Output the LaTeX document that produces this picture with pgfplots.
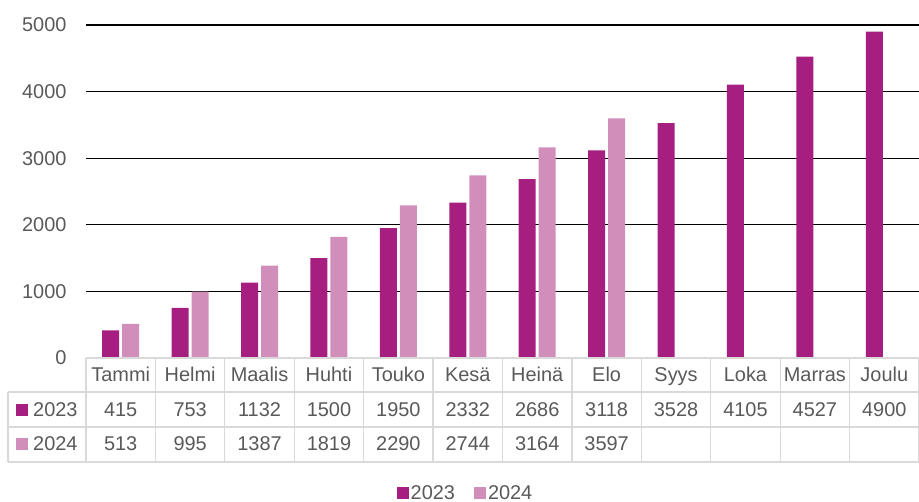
\documentclass[border=0pt]{standalone}
\usepackage{fontspec}
\setmainfont{Liberation Sans}
\usepackage{pgfplots}
\pgfplotsset{compat=1.18}
\usepackage{pgfplotstable}
\definecolor{c23}{HTML}{A61F80}
\definecolor{c24}{HTML}{D18EBB}
\definecolor{txt}{HTML}{595959}
\definecolor{tbl}{HTML}{D9D9D9}

\pgfplotstableread{
x y
0 415
1 753
2 1132
3 1500
4 1950
5 2332
6 2686
7 3118
8 3528
9 4105
10 4527
11 4900
}\dataA
\pgfplotstableread{
x y
0 513
1 995
2 1387
3 1819
4 2290
5 2744
6 3164
7 3597
}\dataB

\newcommand{\fs}{\fontsize{20}{23}\selectfont}

\begin{document}
\begin{tikzpicture}[font=\fs]
\useasboundingbox (-86bp,-144bp) rectangle (833bp,358bp);
\begin{axis}[
  at={(0,0)}, anchor=south west, scale only axis,
  width=833bp, height=333bp,
  xmin=-0.5, xmax=11.5, ymin=0, ymax=5000,
  ybar=3bp, bar width=17bp,
  axis line style={draw=none},
  xtick=\empty,
  ytick={1000,2000,3000,4000,5000},
  extra y ticks={0},
  extra y tick style={grid=none},
  ymajorgrids,
  grid style={black, line width=1.1bp},
  major tick length=0pt,
  /pgf/number format/assume math mode=true,
  /pgf/number format/1000 sep={},
  scaled y ticks=false,
  tick label style={text=txt, font=\fs},
  yticklabel style={xshift=-16bp},
  clip=false,
  legend style={at={(0.4556,-0.405)}, anchor=center, draw=none, fill=none,
    font=\fs, text=txt, inner sep=0pt,
    /tikz/every even column/.append style={column sep=17bp}},
  legend columns=2,
  legend image code/.code={\fill[#1] (0bp,-6bp) rectangle (12bp,6bp);},
]
\addplot[fill=c23, draw=none] table[x=x,y=y] {\dataA};
\addplot[fill=c24, draw=none] table[x=x,y=y] {\dataB};
\legend{2023,2024}
\end{axis}
% data table
\begin{scope}[tbl, line width=1.3bp]
\draw (0bp,0bp) -- (833bp,0bp);
\draw (-78bp,-34bp) -- (833bp,-34bp);
\draw (-78bp,-69bp) -- (833bp,-69bp);
\draw (-78bp,-104bp) -- (833bp,-104bp);
\draw (-78bp,-34bp) -- (-78bp,-104bp);
\foreach \i in {0,...,12} \draw ({\i*69.4167bp},0bp) -- ({\i*69.4167bp},-104bp);
\end{scope}
\foreach \m [count=\i from 0] in {Tammi,Helmi,Maalis,Huhti,Touko,Kesä,Heinä,Elo,Syys,Loka,Marras,Joulu}
  \node[txt, anchor=base, inner sep=0pt] at ({(\i+0.5)*69.4167bp},-23.5bp) {\m};
\foreach \v [count=\i from 0] in {415,753,1132,1500,1950,2332,2686,3118,3528,4105,4527,4900}
  \node[txt, anchor=base, inner sep=0pt] at ({(\i+0.5)*69.4167bp},-58bp) {\v};
\foreach \v [count=\i from 0] in {513,995,1387,1819,2290,2744,3164,3597}
  \node[txt, anchor=base, inner sep=0pt] at ({(\i+0.5)*69.4167bp},-92.7bp) {\v};
\fill[c23] (-70bp,-57.5bp) rectangle (-58bp,-45.5bp);
\node[txt, anchor=base west, inner sep=0pt] at (-53bp,-58bp) {2023};
\fill[c24] (-70bp,-92.2bp) rectangle (-58bp,-80.2bp);
\node[txt, anchor=base west, inner sep=0pt] at (-53bp,-92.7bp) {2024};
\end{tikzpicture}
\end{document}
